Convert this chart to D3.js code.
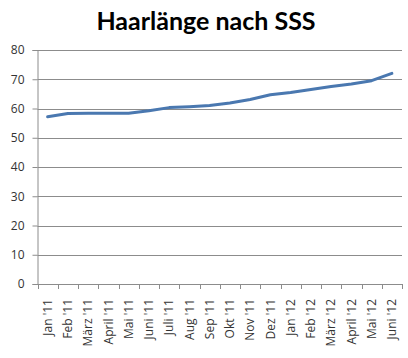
<!DOCTYPE html>
<html><head><meta charset="utf-8">
<script src="https://cdn.jsdelivr.net/npm/d3@7"></script>
<style>body{margin:0;background:#fff}svg{display:block}</style>
</head><body>
<svg id="c" width="408" height="358"></svg>
<script>
const title = "Haarlänge nach SSS";
const months = ["Jan '11","Feb '11","März '11","April '11","Mai '11","Juni '11","Juli '11","Aug '11","Sep '11","Okt '11","Nov '11","Dez '11","Jan '12","Feb '12","März '12","April '12","Mai '12","Juni '12"];
const lengths = [57.2,58.3,58.4,58.4,58.4,59.2,60.3,60.6,61.0,61.9,63.1,64.7,65.5,66.5,67.5,68.4,69.5,72.0];
const yTicks = [0,10,20,30,40,50,60,70,80];

const svg = d3.select("#c");
const L = 37.5, R = 402, T = 50, B = 284;
const x = d3.scaleBand().domain(months).range([L, R]);
const y = d3.scaleLinear().domain([0, 80]).range([B, T]);
const font = "Lato, 'Open Sans', sans-serif";
const lfont = "'Open Sans', sans-serif";

svg.append("text").attr("x", 206).attr("y", 30).attr("text-anchor", "middle")
  .attr("font-family", font).attr("font-weight", "bold").attr("font-size", 25)
  .attr("fill", "#000").text(title);

// gridlines
svg.append("g").selectAll("line").data(yTicks.filter(d => d > 0)).join("line")
  .attr("x1", L).attr("x2", R).attr("y1", d => Math.round(y(d)) + 0.5).attr("y2", d => Math.round(y(d)) + 0.5)
  .attr("stroke", "#8c8c8c").attr("stroke-width", 1);

// y axis
const ya = svg.append("g").attr("transform", `translate(${L},0)`)
  .call(d3.axisLeft(y).tickValues(yTicks).tickSize(5).tickPadding(8));
ya.select(".domain").attr("stroke", "#8c8c8c");
ya.selectAll(".tick line").attr("stroke", "#8c8c8c");
ya.selectAll("text").attr("font-family", lfont).attr("font-size", 12).attr("fill", "#333");

// x axis
const xa = svg.append("g").attr("transform", `translate(0,${B})`)
  .call(d3.axisBottom(x).tickSize(0).tickPadding(0));
xa.select(".domain").attr("stroke", "#8c8c8c");
xa.selectAll(".tick text").attr("font-family", lfont).attr("font-size", 12).attr("fill", "#333")
  .attr("text-anchor", "end").attr("transform", "rotate(-90)")
  .attr("x", -15).attr("y", 0).attr("dy", "0.35em");
// boundary ticks
const bounds = months.map(m => x(m)).concat([x(months[months.length-1]) + x.bandwidth()]);
svg.append("g").selectAll("line").data(bounds).join("line")
  .attr("x1", d => Math.round(d) + 0.5).attr("x2", d => Math.round(d) + 0.5)
  .attr("y1", B).attr("y2", B + 5).attr("stroke", "#8c8c8c");

// line
const line = d3.line().x((d, i) => x(months[i]) + x.bandwidth() / 2).y(d => y(d));
svg.append("path").datum(lengths).attr("d", line).attr("fill", "none")
  .attr("stroke", "#4a78b0").attr("stroke-width", 3).attr("stroke-linejoin", "round").attr("stroke-linecap", "round");
</script>
</body></html>
